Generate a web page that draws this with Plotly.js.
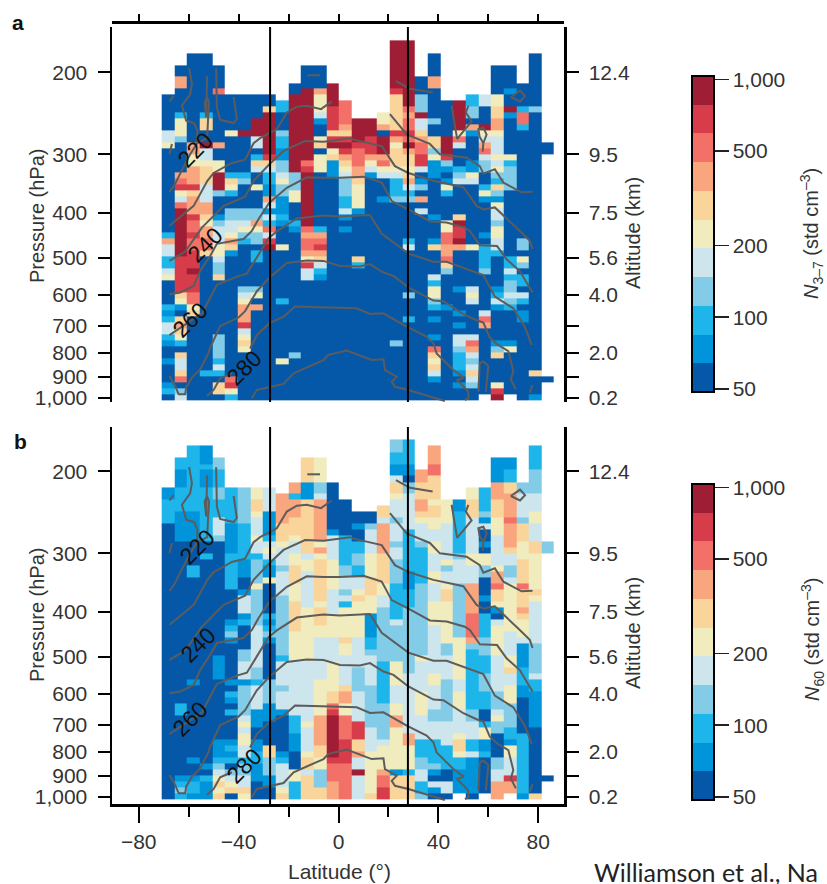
<!DOCTYPE html>
<html><head><meta charset="utf-8">
<script src="https://cdn.plot.ly/plotly-3.0.1.min.js"></script>
<style>html,body{margin:0;padding:0;background:#fff;overflow:hidden}</style>
</head><body><div id="chart" style="width:827px;height:884px"></div>
<script>
// Latitude bin edges (deg) and pressure bin edges (hPa)
const latEdges=[-70.8,-65.73,-60.66,-55.59,-50.52,-45.45,-40.38,-35.31,-30.24,-25.17,-20.1,-15.03,-9.96,-4.89,0.18,5.25,10.32,15.39,20.46,25.53,30.6,35.67,40.74,45.81,50.88,55.95,61.02,66.09,71.16,76.23,81.3,86.37];
const pressureEdges=[161,166,171,176,182,187,193,198,204,211,217,223,230,237,244,251,259,267,275,283,291,300,309,318,328,338,348,358,369,380,392,404,416,428,441,454,468,482,496,511,527,542,559,576,593,611,629,648,667,687,708,729,751,774,797,821,846,871,897,924,952,980,1010];
// Concentration of each colour class (std cm-3)
const classValues=[56,74,98,130,173,229,303,402,532,705,934];
const classColors=['#0558A8','#0095DA','#1EB6EA','#82CCE8','#CDE5EC','#F1ECBD','#F9D49B','#F9A67E','#F37068','#D73C4A','#9F1D35'];
// Column runs, top to bottom: <count><class>, class . = no data, a = 10
const colsA=[
"11. 60 24 15 140 12 17 24 22 14 15 40 12 11 12 24 12 11 20 11 10 20 11 12 10",
"6. 20 27 40 12 35 13 50 17 18 19 15 14 18 8a 49 29 16 15 11 10 16 17 16 15 12 10 16 24 16 18 10 13 14",
"4. 150 27 25 37 19 16 37 19 28 19 28 39 1a 39 28 15 16 140",
"4. 100 12 26 20 1a 24 15 36 34 27 16 15 27 28 16 190 12 40",
"6. 40 18 80 17 20 25 3a 13 30 11 13 34 25 14 23 16 90 43 12 14 12 10 26 10",
"11. 60 15 60 12 16 15 12 20 23 14 14 15 17 16 11 200 18 19 15 12",
"11. 60 1a 60 12 13 40 13 13 14 15 13 12 70 13 14 15 37 19 14 15 16 15 80",
"11. 40 3a 24 10 12 16 14 20 15 30 23 17 15 13 13 10 22 40 13 15 10 17 150",
"11. 20 16 7a 19 16 14 12 12 11 11 17 14 11 14 12 18 14 19 1a 250",
"12. 22 30 13 12 12 21 23 14 15 23 31 12 11 30 15 80 12 90 15 60",
"9. 20 13a 33 25 30 12 11 200 13 70",
"6. 40 12a 18 19 8a 1a 18 17 18 18 17 15 19 24 200",
"6. 40 17 35 14 11 20 15 16 10 35 90 12 17 18 19 17 16 14 12 11 200",
"9. 4a 49 16 19 1a 15 16 31 370",
"12. 48 17 16 19 1a 19 17 16 15 14 33 22 14 11 10 11 280",
"15. 4a 19 18 28 17 17 16 45 11 70 16 12 220",
"15. 3a 29 19 17 15 14 11 370",
"14. 25 17 10 3a 17 18 15 14 30 11 330",
"2. 8a 19 56 16 19 17 15 36 15 14 22 12 13 230 13 90",
"2. 11a 18 17 18 18 19 18 1a 17 26 15 16 17 14 12 13 60 12 14 70 13 30 12 130",
"8. 30 33 1a 14 14 16 17 18 18 29 14 10 11 13 10 17 10 14 310",
"4. 40 27 50 13 20 26 13 15 21 11 60 11 30 11 16 40 14 12 25 13 12 10 11 20 11 10 18 16 15 16 14 11 30",
"12. 60 3a 19 13 11 10 11 15 12 40 25 28 27 18 16 13 50 11 150",
"12. 5a 15 18 14 30 12 13 14 50 16 1a 29 1a 17 60 11 30 11 10 11 10 24 13 32 11 10 11 20",
"11. 22 23 10 17 11 40 11 11 15 14 100 15 60 14 15 14 50 14 18 17 14 13 14 16 14 13 20",
"11. 24 30 1a 15 14 17 18 14 13 13 10 10 12 15 11 50 11 10 42 13 60 14 18 17 110 1.",
"6. 50 25 26 27 15 34 15 14 15 13 12 16 13 11 15 14 14 13 25 24 12 50 11 12 14 11 40 10 11 13 16 40 15 19 1a",
"6. 40 11 20 1a 11 60 15 12 33 13 110 12 12 14 12 13 13 14 13 12 50 11 15 70 1.",
"9. 40 12 18 18 12 180 13 13 10 15 13 10 22 10 14 12 10 21 130",
"4. 90 13 430 16 30 11",
"19. 20 37. 10 3."];
const colsB=[
"10. 21 42 460",
"5. 22 31 42 51 270 22 100 11 12 13 12",
"3. 112 51 40 22 170 11 120 11 20 11 22 11",
"3. 31 12 31 92 20 12 340 11 10 12 31",
"5. 23 32 23 32 34 13 190 41 100 31 12 13 14 15 16 15 16",
"10. 62 51 62 50 11 12 13 11 60 11 10 12 11 10 12 40 11 12 11 12 10 13 14 15 16 10",
"10. 63 62 31 20 11 34 11 12 40 23 24 14 11 13 43 14 15 14 15 15 24 12 23 24 16 15",
"10. 25 26 15 34 15 24 12 43 15 63 74 23 12 44 31 20 21 22 31 20 10",
"10. 44 41 12 14 15 14 12 21 15 50 12 11 12 13 11 60 43 31 40 26 33 21 20",
"11. 57 36 15 34 13 44 33 73 12 44 13 34 11 60 11 12 44 15 16",
"9. 27 12 37 36 15 24 25 36 25 15 56 55 94 32 31 30 25 32",
"5. 46 31 96 14 25 64 95 104 15 44 15 26 14 46",
"5. 45 23 14 77 15 17 15 76 15 36 25 14 64 25 45 57 26 25 33 26",
"9. 80 11 44 55 44 45 44 35 25 26 18 19 7a 19 38 37",
"12. 60 52 23 24 13 14 12 55 16 25 54 16 27 25 48 49 68",
"14. 20 11 20 22 23 22 24 15 16 65 54 43 54 39 26 17 24 1a 44",
"14. 20 13 44 45 36 35 41 22 13 54 73 44 75 16",
"13. 26 14 57 56 25 24 83 13 72 63 14 35 15 17 28 29",
"2. 23 22 21 14 26 15 34 13 34 13 24 43 62 14 63 45 34 25 27 65 15 11 16 36",
"2. 42 21 10 23 64 72 31 32 113 84 24 27 45 12 16 36",
"7. 27 36 27 16 15 34 13 62 123 15 54 45 44 32 23 24 22 13",
"3. 37 18 18 46 15 26 25 24 25 34 25 34 45 84 25 44 23 34 42 13 11 10 14 11 10",
"12. 45 44 24 15 13 24 15 26 35 45 23 44 73 44 42 20 24 10",
"12. 21 72 13 44 93 75 24 35 44 15 26 15 22 41 1.",
"10. 25 36 64 25 34 57 48 17 13 102 23 34 22 14 41 11 11 10",
"10. 42 13 11 14 20 11 10 25 23 30 11 20 42 33 32 33 32 20 12 25 21 12 60 1.",
"5. 41 37 36 35 54 15 27 18 26 15 11 10 14 55 64 33 14 15 23 40 23 24 37",
"5. 21 22 26 47 18 47 16 24 23 14 85 44 25 16 24 35 43 22 11 25 24 14 19 27 1.",
"9. 23 44 13 36 25 15 46 18 36 17 16 15 25 14 41 32 21 60 102 11",
"3. 42 43 34 25 34 26 65 16 15 74 53 14 22 61 110 16",
"19. 23 37. 10 3."];
// Isotherms: [latitude, pressure hPa]
const isoA=[[-67.7,361],[-65.4,347],[-63.4,330],[-59.4,300],[-56.6,284],[-52.6,277],[-52.2,250],[-51.8,232],[-52.7,226],[-53.6,232],[-53,250],[-52.6,204]];
const isoA2=[[-56.6,284],[-56.5,267],[-57.8,257],[-61,254],[-62.7,236],[-59.4,223],[-58.7,212],[-59.8,196]];
const isoA3=[[-49,196],[-48.7,238],[-47.4,253],[-42,257],[-40.7,252],[-42,226]];
const isoA4=[[-67.7,231],[-66,225]];
const isoA5=[[-66.7,285],[-67.7,300]];
const isoB=[[-67.7,427],[-58,387],[-52.5,342],[-50,329],[-42.7,313],[-37.4,308],[-34,284],[-31.4,277],[-24.7,265],[-20.7,244],[-16.7,237],[-12.7,236],[-7,240],[-2.7,231]];
const isoB2=[[23,209],[28.6,217],[37.7,221]];
const isoB3=[[20.6,246],[24,259],[27.3,272],[36.6,285],[40.6,300],[51.3,305],[56.6,318],[58,330],[62.6,323],[66,345],[73.3,362],[77.7,361]];
const isoB4=[[45.3,236],[47.5,278],[53.3,255],[51,244],[52,236]];
const isoB5=[[56.5,275],[56,265],[58,263],[59.3,272],[58,284],[56.5,275]];
const isoB6=[[58,284],[57.7,296]];
const isoB7=[[69,226],[72.7,219],[74.7,225],[72.7,231],[69,226]];
const isoB8=[[-12.5,203],[-7.4,203]];
const isoC=[[-67.7,508],[-61.4,485],[-54.7,431],[-46,387],[-37.4,370],[-34,342],[-27.7,315],[-22,295],[-13.4,281],[-6,282],[4.6,277],[6,279],[17.3,288],[22.6,318],[28,329],[38,342],[50,353],[55.3,387],[58,394],[62.6,390],[72.6,438],[76.6,460],[77.7,479]];
const isoD=[[-67.7,599],[-63.4,594],[-58,575],[-55.4,534],[-51.4,496],[-48.7,467],[-38,456],[-34.7,438],[-32,413],[-27.7,381],[-20.7,354],[-12.7,336],[-6,337],[0.6,337],[10,335],[17.3,345],[21.3,378],[28,394],[36.6,418],[43.3,420],[50.6,431],[52.6,438],[56.6,470],[63.5,472],[67.3,504],[72.6,534],[77.7,594]];
const isoE=[[-67.7,733],[-54.7,658],[-48.7,572],[-40.7,549],[-36.7,541],[-28,454],[-24.7,439],[-16.7,412],[-6,406],[0.6,408],[12.6,405],[17.3,444],[28,490],[38,510],[43.3,510],[58,545],[62.6,606],[70,642],[74.6,703],[77.4,770]];
const isoF=[[-67.7,897],[-65.4,942],[-64,982],[-61.4,982],[-61,950],[-58.7,904],[-55.4,868],[-52,799],[-51.4,780],[-47.4,701],[-40,672],[-37.4,651],[-32.7,590],[-27.7,552],[-20.7,513],[-12.7,507],[-6,508],[0.6,521],[8.6,522],[12.6,516],[18,538],[22,547],[28,579],[38,618],[42,620],[50,661],[55.3,681],[58,689],[60.6,742],[63.5,767],[68,793],[70,875],[69,912],[71,958]];
const isoG=[[-52.7,990],[-50,961],[-47.4,907],[-42.7,885]];
const isoG2=[[-35.4,783],[-32.7,733],[-27.7,691],[-22,669],[-17.4,636],[-6,639],[0.6,639],[7.3,642],[12.6,660],[18,658],[27.3,703],[35.3,738],[38,763],[39.3,802],[46,871],[50.2,904],[47.5,915],[52,969],[52,1002],[50.6,1010]];
const isoH=[[-34.7,1001],[-32.7,961],[-22,933],[-18,885],[-6,829],[-4,808],[1.3,796],[3.3,791],[13.3,829],[18,826],[18.6,871],[23.3,900],[21.3,923],[22.6,946],[28,961],[42.6,1015]];
const isoI=[[56,969],[56.6,842],[58,835],[60,853],[59,969]];
const isoJ=[[76.6,974],[77.7,938]];
const isoLines=[isoA,isoA2,isoA3,isoA4,isoA5,isoB,isoB2,isoB3,isoB4,isoB5,isoB6,isoB7,isoB8,isoC,isoD,isoE,isoF,isoG,isoG2,isoH,isoI,isoJ];
// Axis labels
const latTicks=[-80,-40,0,40,80], latMinor=[-60,-20,20,60], latAll=[-80,-60,-40,-20,0,20,40,60,80];
const pTicks=[200,300,400,500,600,700,800,900,1000];
const pLabels=['200','300','400','500','600','700','800','900','1,000'];
const altLabels=['12.4','9.5','7.5','5.6','4.0','','2.0','','0.2'];
const cbVals=[50,100,200,500,1000], cbLabels=['50','100','200','500','1,000'];
const frontLats=[-27.4,27.8];

const FONT='Liberation Sans, Arial, sans-serif', INK='#333';
const W=827,H=884, px=x=>x/W, py=y=>1-y/H;
function matrix(cols){
  const rows=pressureEdges.length-1;
  const z=Array.from({length:rows},()=>Array(cols.length).fill(null));
  cols.forEach((s,c)=>{let r=0;s.split(' ').forEach(t=>{
    const n=parseInt(t.slice(0,-1)),k=t.slice(-1);
    for(let i=0;i<n&&r<rows;i++,r++){ if(k!=='.') z[r][c]=Math.log10(classValues[k==='a'?10:+k]); }
  });});
  return z;
}
const cbMin=Math.log10(48.5), cbMax=Math.log10(1033);
const scale=[]; classColors.forEach((c,i)=>{scale.push([i/11,c],[(i+1)/11,c]);});
function heat(cols,ya,top){
  return {type:'heatmap',x:latEdges,y:pressureEdges,z:matrix(cols),xaxis:'x',yaxis:ya,zmin:cbMin,zmax:cbMax,
    colorscale:scale,hoverongaps:false,zsmooth:false,
    colorbar:{lenmode:'pixels',len:316,thicknessmode:'pixels',thickness:22,x:px(692),xanchor:'left',xpad:0,ypad:0,
      y:py(top),yanchor:'top',outlinewidth:2,outlinecolor:'#000',ticks:'outside',ticklen:14,tickwidth:1.5,tickcolor:'#222',
      tickvals:cbVals.map(v=>Math.log10(v)),ticktext:cbLabels,tickfont:{family:FONT,size:21,color:INK}}};
}
function isoTrace(ya){
  const x=[],y=[]; isoLines.forEach(l=>{l.forEach(p=>{x.push(p[0]);y.push(p[1]);});x.push(null);y.push(null);});
  return {type:'scatter',mode:'lines',x,y,xaxis:'x',yaxis:ya,line:{color:'#5c5c5c',width:2},hoverinfo:'skip',showlegend:false};
}
function frontTrace(ya,lo,hi){
  const x=[],y=[]; frontLats.forEach(l=>{x.push(l,l,null);y.push(lo,hi,null);});
  return {type:'scatter',mode:'lines',x,y,xaxis:'x',yaxis:ya,line:{color:'#000',width:2},hoverinfo:'skip',showlegend:false};
}
const data=[heat(colsA,'y',76),heat(colsB,'y2',484),isoTrace('y'),isoTrace('y2'),
  frontTrace('y3',100,1100),frontTrace('y4',100,1100),
  {type:'scatter',mode:'lines',x:[0],y:[300],xaxis:'x2',yaxis:'y',line:{width:0},hoverinfo:'skip',showlegend:false}];
const latRange=[-90.7,90.3];
const rangeA=[3.0086,2.2039], rangeB=[3.015,2.206];
const domA=[py(402),py(27)], domB=[py(804),py(427)];
const tick={ticks:'outside',ticklen:12,tickwidth:2,tickcolor:'#000',showline:true,linecolor:'#000',linewidth:2.5,showgrid:false,zeroline:false};
function leftAxis(dom,rng){return Object.assign({},tick,{type:'log',domain:dom,range:rng,anchor:'x',side:'left',tickmode:'array',tickvals:pTicks,ticktext:pLabels,
  tickfont:{family:FONT,size:21,color:INK},ticklabelstandoff:6});}
function rightAxis(over,rng,dom){return Object.assign({},tick,{type:'log',domain:dom,range:rng,anchor:'x',overlaying:over,side:'right',tickmode:'array',tickvals:pTicks,ticktext:altLabels,
  tickfont:{family:FONT,size:21,color:INK},ticklabelstandoff:6});}
const ann=(x,y,text,o)=>Object.assign({xref:'paper',yref:'paper',x:px(x),y:py(y),text,showarrow:false,xanchor:'center',yanchor:'middle',
  font:{family:FONT,size:20,color:INK}},o||{});
const label=(x,y,t)=>ann(x,y,t,{textangle:-45,font:{family:FONT,size:23,color:'#111'}});
const layout={width:W,height:H,margin:{l:0,r:0,t:0,b:0},paper_bgcolor:'#fff',plot_bgcolor:'#fff',showlegend:false,
  xaxis:Object.assign({},tick,{domain:[px(112),px(564)],range:latRange,anchor:'y2',tickmode:'array',tickvals:latTicks,ticklen:16,
    tickfont:{family:FONT,size:21,color:INK},ticklabelstandoff:1,
    minor:{tickmode:'array',tickvals:latMinor,ticks:'outside',ticklen:10,tickwidth:2,tickcolor:'#000',showgrid:false}}),
  xaxis2:Object.assign({},tick,{domain:[px(112),px(564)],range:latRange,anchor:'free',position:py(22),overlaying:'x',side:'top',tickmode:'array',tickvals:latAll,ticklen:7,showticklabels:false}),
  yaxis:leftAxis(domA,rangeA),yaxis2:leftAxis(domB,rangeB),
  yaxis3:rightAxis('y',rangeA,domA),yaxis4:rightAxis('y2',rangeB,domB),
  annotations:[
    ann(18,22,'<b>a</b>',{font:{family:FONT,size:21,color:'#111'}}),
    ann(20,441,'<b>b</b>',{font:{family:FONT,size:21,color:'#111'}}),
    ann(37,216,'Pressure (hPa)',{textangle:-90}),
    ann(37,615,'Pressure (hPa)',{textangle:-90}),
    ann(339,871,'Latitude (°)',{font:{family:FONT,size:21,color:INK}}),
    ann(633,233,'Altitude (km)',{textangle:-90}),
    ann(633,633,'Altitude (km)',{textangle:-90}),
    ann(812,234,'<i>N</i><sub>3–7</sub> (std cm<sup>–3</sup>)',{textangle:-90}),
    ann(812,640,'<i>N</i><sub>60</sub> (std cm<sup>–3</sup>)',{textangle:-90}),
    label(195,150,'220'),label(205,245,'240'),label(190,320,'260'),label(244,368,'280'),
    label(197,547,'220'),label(198,645,'240'),label(190,719,'260'),label(244,766,'280'),
    ann(592,872,'Williamson et al., Na',{xanchor:'left',font:{family:'Lato, sans-serif',size:25,color:'#222'}})
  ]};
Plotly.newPlot('chart',data,layout,{displayModeBar:false,staticPlot:true});
</script></body></html>
